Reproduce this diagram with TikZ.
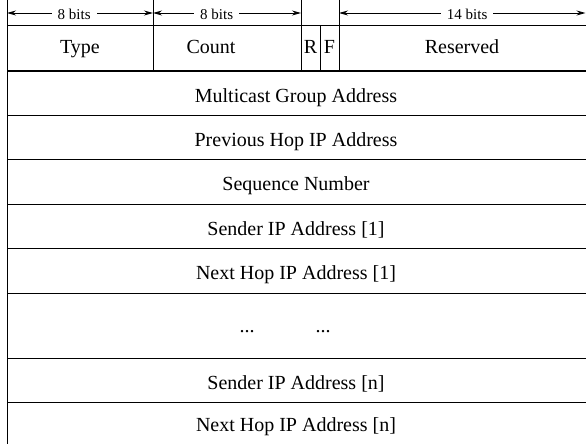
\documentclass[tikz,border=0pt]{standalone}
\usepackage{fontspec}
\setmainfont{Liberation Serif}
\usetikzlibrary{arrows.meta}
\begin{document}
\begin{tikzpicture}[x=1pt,y=-1pt,
  rule/.style={line width=1pt},
  field/.style={font=\fontsize{20}{24}\selectfont, anchor=base, inner sep=0pt},
  widthlabel/.style={font=\fontsize{15}{17}\selectfont, fill=white, inner xsep=6pt, inner ysep=1pt, yshift=-1pt},
  span/.style={line width=0.9pt, {Stealth[length=9pt,width=5pt]}-{Stealth[length=9pt,width=5pt]}}]
\useasboundingbox (0,0) rectangle (586,444);

% field boundaries of the first word
\coordinate (a0) at (7,13);
\coordinate (a1) at (153,13);
\coordinate (a2) at (301,13);
\coordinate (a3) at (339,13);
\coordinate (a4) at (585.5,13);

% outer frame and row separators
\draw[rule] (7,0) -- (7,444);
\draw[rule] (153,0) -- (153,71);
\draw[rule] (301,0) -- (301,71);
\draw[rule] (320,26) -- (320,71);
\draw[rule] (339,0) -- (339,71);
\foreach \y in {26,71,115.4,159.8,204.2,248.6,293,358,402}
  \draw[rule] (7,\y) -- (586,\y);

% bit widths
\draw[span] (a0) -- (a1) node[widthlabel, pos=0.46] (w1) {8 bits};
\draw[span] (a1) -- (a2) node[widthlabel, pos=0.43] (w2) {8 bits};
\draw[span] (a3) -- (a4) node[widthlabel, pos=0.52] (w3) {14 bits};

% first word
\node[field] (type) at (80,53) {Type};
\node[field] (count) at (211,53) {Count};
\node[field] (rflag) at (310.5,53) {R};
\node[field] (fflag) at (329.5,53) {F};
\node[field] (reserved) at (462,53) {Reserved};

% remaining words
\node[field] (group) at (296,102) {Multicast Group Address};
\node[field] (prevhop) at (296,146.4) {Previous Hop IP Address};
\node[field] (seq) at (296,190.8) {Sequence Number};
\node[field] (sender1) at (296,235.2) {Sender IP Address [1]};
\node[field] (nexthop1) at (296,279.6) {Next Hop IP Address [1]};
\node[field] (dotsa) at (247,332) {...};
\node[field] (dotsb) at (323,332) {...};
\node[field] (sendern) at (296,389) {Sender IP Address [n]};
\node[field] (nexthopn) at (296,431) {Next Hop IP Address [n]};
\end{tikzpicture}
\end{document}
